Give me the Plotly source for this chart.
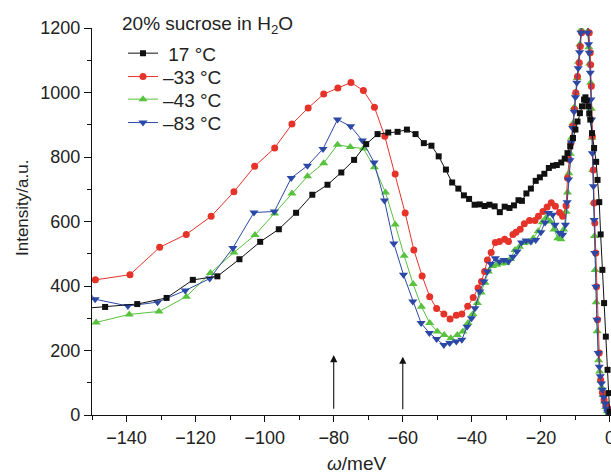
import plotly.graph_objects as go

# ---------------- data ----------------
x_17 = [-153, -146.2, -136.9, -128.4, -120.8, -113.7, -107.3, -101.3, -95.9, -90.9,
        -86.2, -81.8, -77.8, -74.1, -70.6, -67.3, -64.2, -61.5, -58.8, -56.3,
        -53.9, -51.7, -49.6, -47.5, -45.7, -43.9, -42.3, -40.8, -39.2, -37.7,
        -36.3, -34.9, -33.4, -31.9, -30.5, -29.1, -27.8, -26.5, -25.5, -24.2,
        -22.9, -21.5, -20.3, -19.0, -17.7, -16.5, -15.4, -14.1, -13.1, -12.3,
        -11.5, -10.7, -10.0, -9.4, -8.7, -8.1, -7.5, -7.1, -6.7, -6.3,
        -6.0, -5.7, -5.2, -4.6, -4.0, -3.6, -3.1, -2.7, -2.2, -1.7,
        -1.2, -0.7, -0.4, -0.1]
y_17 = [330, 335, 344, 363, 419, 430, 483, 537, 576, 627,
        683, 714, 752, 791, 840, 871, 876, 878, 885, 871,
        843, 835, 802, 761, 721, 702, 681, 670, 652, 653,
        648, 652, 647, 629, 646, 642, 650, 666, 664, 687,
        702, 726, 737, 748, 766, 773, 775, 783, 795, 812,
        833, 859, 885, 910, 936, 957, 978, 985, 975, 957,
        935, 916, 874, 828, 785, 729, 660, 560, 450, 347,
        243, 140, 68, 10]

x_m33 = [-149.0, -139.0, -130.4, -122.7, -115.5, -108.9, -102.9, -97.1, -92.1, -87.4,
         -82.9, -78.8, -75.0, -71.4, -68.2, -65.2, -62.2, -59.3, -56.8, -54.4,
         -52.2, -50.2, -48.1, -46.3, -44.5, -42.9, -41.2, -39.6, -38.2, -37.2,
         -36.3, -35.5, -34.4, -33.2, -32.0, -30.5, -29.4, -28.1, -27.2, -26.0,
         -24.8, -23.3, -21.7, -20.7, -19.4, -18.2, -17.0, -15.8, -14.6, -13.7,
         -12.7, -12.3, -11.8, -11.3, -10.8, -10.3, -9.9, -9.4, -8.9, -8.6,
         -8.2, -7.2, -6.0, -5.7, -5.6, -5.4, -5.1, -4.8, -4.6, -4.4,
         -4.1, -3.9, -3.6, -3.1, -2.7, -2.2, -1.7, -1.2, -0.7]
y_m33 = [419, 435, 520, 560, 616, 692, 771, 828, 902, 952,
         995, 1014, 1031, 1006, 954, 864, 747, 626, 512, 431,
         367, 330, 313, 298, 309, 313, 337, 364, 394, 414,
         445, 481, 504, 535, 538, 545, 538, 560, 567, 576,
         593, 603, 603, 616, 631, 645, 658, 647, 628, 616,
         649, 735, 792, 843, 895, 947, 999, 1050, 1092, 1143,
         1185, 1370, 1185, 1123, 1086, 1019, 864, 760, 657, 595,
         502, 398, 295, 192, 109, 70, 47, 32, 21]

x_m43 = [-148.8, -139.2, -130.6, -122.7, -115.7, -108.9, -102.8, -97.1, -92.1, -87.6,
         -82.9, -78.9, -75.2, -71.4, -68.2, -65.0, -62.2, -59.6, -57.0, -54.6,
         -52.2, -50.0, -48.0, -46.1, -44.2, -42.6, -41.1, -39.7, -38.4, -37.3,
         -36.2, -35.2, -34.0, -32.8, -31.5, -30.2, -28.8, -27.5, -26.2, -24.9,
         -23.6, -22.2, -20.8, -19.6, -18.5, -17.3, -16.2, -15.1, -14.2, -13.4,
         -12.7, -12.3, -11.9, -11.5, -11.1, -10.7, -10.3, -9.9, -9.5, -9.1,
         -8.7, -8.3, -7.3, -6.4, -6.1, -5.9, -5.6, -5.4, -5.2, -5.0,
         -4.7, -4.5, -4.3, -4.0, -3.7, -3.3, -3.0, -2.7, -2.4, -2.0,
         -1.6, -1.2, -0.8, -0.4]
y_m43 = [287, 312, 321, 367, 440, 504, 558, 625, 687, 740,
         781, 838, 831, 826, 768, 690, 591, 494, 406, 336,
         285, 259, 248, 238, 248, 259, 285, 313, 347, 380,
         410, 445, 462, 466, 470, 471, 484, 512, 522, 533,
         536, 548, 570, 598, 612, 600, 575, 548, 545, 575,
         630, 690, 750, 810, 860, 905, 955, 1000, 1045, 1095,
         1150, 1195, 1360, 1190, 1140, 1090, 1030, 950, 860, 760,
         660, 555, 450, 350, 260, 170, 135, 108, 85, 62,
         42, 25, 12, 4]

x_m83 = [-154, -149.1, -139.6, -131.0, -123.0, -115.9, -109.2, -103.1, -97.2, -92.3,
         -87.6, -83.1, -78.9, -75.1, -71.7, -68.3, -65.3, -62.6, -59.8, -57.1,
         -54.7, -52.3, -50.2, -48.1, -46.4, -44.5, -42.9, -41.4, -40.1, -39.1,
         -37.7, -36.5, -35.5, -34.5, -33.2, -32.0, -30.7, -29.4, -28.1, -26.9,
         -25.6, -24.3, -22.9, -21.5, -20.0, -18.8, -17.8, -16.6, -15.9, -14.6,
         -13.7, -12.9, -12.4, -12.0, -11.6, -11.2, -10.8, -10.4, -10.0, -9.6,
         -9.2, -8.8, -8.4, -7.4, -6.5, -6.2, -6.0, -5.7, -5.5, -5.3,
         -5.1, -4.8, -4.6, -4.4, -4.1, -3.8, -3.4, -3.1, -2.8, -2.5,
         -2.2, -1.8, -1.4, -1.0, -0.7, -0.3]
y_m83 = [420, 359, 338, 350, 386, 423, 518, 628, 631, 735,
         773, 825, 916, 895, 851, 783, 665, 532, 435, 352,
         285, 254, 236, 217, 223, 228, 233, 274, 300, 331,
         383, 414, 445, 469, 486, 476, 481, 476, 491, 507,
         535, 541, 538, 543, 567, 597, 626, 621, 590, 564,
         559, 590, 660, 730, 790, 845, 890, 940, 985, 1030,
         1075, 1125, 1185, 1380, 1185, 1150, 1123, 1061, 978, 916,
         812, 709, 605, 502, 398, 295, 192, 150, 120, 98,
         78, 55, 36, 20, 10, 3]

series_names = [" 17 °C", "–33 °C", "–43 °C", "–83 °C"]
legend_title = "20% sucrose in H<sub>2</sub>O"
x_title = "<i>ω</i>/meV"
y_title = "Intensity/a.u."
arrow_x = [-80, -60]
arrow_tip = [186, 181]
arrow_base = [15, 13]

# ---------------- figure ----------------
FONT = "Liberation Sans, Arial, Helvetica, sans-serif"
TXT = "#222222"
C_BLACK, C_RED, C_GREEN, C_BLUE = "#111111", "#e5332a", "#58c23e", "#2c48a6"

# plot area geometry (pixels)
L, T, B, W, H = 92, 28, 59, 611, 474
PW, PH = W - L, H - T - B


def px_to_paper(px, py):
    return (px - L) / PW, (H - B - py) / PH


fig = go.Figure()


def add(x, y, name, color, symbol, size, legend):
    fig.add_trace(go.Scatter(
        x=x, y=y, name=name, mode="lines+markers",
        line=dict(color=color, width=1),
        marker=dict(color=color, symbol=symbol, size=size, line=dict(width=0)),
        legend=legend,
    ))


add(x_m43, y_m43, series_names[2], C_GREEN, "triangle-up", 8, "legend3")
add(x_m33, y_m33, series_names[1], C_RED, "circle", 7, "legend2")
add(x_m83, y_m83, series_names[3], C_BLUE, "triangle-down", 8, "legend4")
add(x_17, y_17, series_names[0], C_BLACK, "square", 6, "legend")

for xa, yt, yb in zip(arrow_x, arrow_tip, arrow_base):
    fig.add_annotation(x=xa, y=yt, ax=xa, ay=yb, xref="x", yref="y",
                       axref="x", ayref="y", text="", showarrow=True,
                       arrowhead=2, arrowsize=1.3, arrowwidth=1.1,
                       arrowcolor="#111111")

# legend title
tx, ty = px_to_paper(120, 25)
fig.add_annotation(x=tx, y=ty, xref="paper", yref="paper", text=legend_title,
                   showarrow=False, xanchor="left", yanchor="middle",
                   font=dict(family=FONT, size=19, color=TXT))
# axis titles
ax_, ay_ = px_to_paper(356, 463)
fig.add_annotation(x=ax_, y=ay_, xref="paper", yref="paper", text=x_title,
                   showarrow=False, xanchor="center", yanchor="middle",
                   font=dict(family=FONT, size=19, color=TXT))
bx, by = px_to_paper(22, 208)
fig.add_annotation(x=bx, y=by, xref="paper", yref="paper", text=y_title,
                   showarrow=False, xanchor="center", yanchor="middle",
                   textangle=-90, font=dict(family=FONT, size=17, color=TXT))

legends = {}
for i, py in enumerate([53.3, 76.7, 99.3, 122.7]):
    lx, ly = px_to_paper(123, py)
    key = "legend" if i == 0 else f"legend{i + 1}"
    legends[key] = dict(x=lx, y=ly, xanchor="left", yanchor="middle",
                        bgcolor="rgba(0,0,0,0)", borderwidth=0,
                        font=dict(family=FONT, size=19, color=TXT))

fig.update_layout(
    width=W, height=H,
    margin=dict(l=L, r=0, t=T, b=B, autoexpand=False),
    paper_bgcolor="white", plot_bgcolor="white",
    font=dict(family=FONT, size=18, color=TXT),
    showlegend=True,
    **legends,
    xaxis=dict(
        range=[-150, 0.3], showgrid=False, zeroline=False, automargin=False,
        showline=True, linecolor="#111111", linewidth=1.3,
        ticks="outside", ticklen=6, tickwidth=1.2, tickcolor="#111111",
        tick0=0, dtick=20, ticklabeloverflow="allow",
        minor=dict(dtick=10, ticklen=4, tickwidth=1.2, tickcolor="#111111", ticks="outside"),
        tickfont=dict(family=FONT, size=18, color=TXT),
    ),
    yaxis=dict(
        range=[0, 1200], showgrid=False, zeroline=False, automargin=False,
        showline=True, linecolor="#111111", linewidth=1.3,
        ticks="outside", ticklen=7, tickwidth=1.2, tickcolor="#111111",
        tick0=0, dtick=200,
        minor=dict(dtick=100, ticklen=4, tickwidth=1.2, tickcolor="#111111", ticks="outside"),
        tickfont=dict(family=FONT, size=18, color=TXT),
    ),
)

fig.write_html(
    "out.html",
    config={"displayModeBar": False},
    post_script="document.body.style.margin='0';document.body.style.overflow='hidden';",
)
